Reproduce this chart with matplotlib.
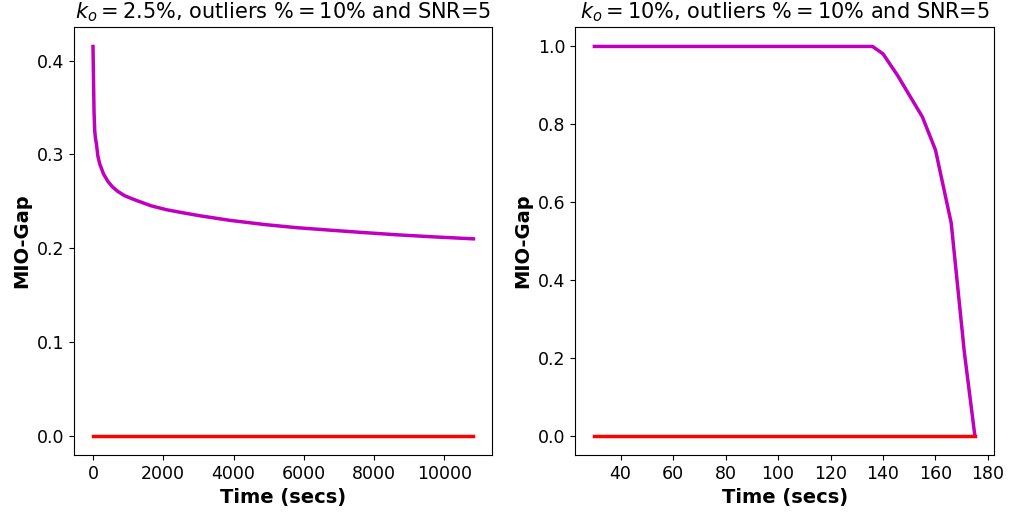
import numpy as np
import matplotlib
matplotlib.use("Agg")
import matplotlib.pyplot as plt

# left panel: k_o = 2.5%
time_left = [0, 15, 30, 50, 70, 96, 140, 190, 300, 426, 560, 710, 900, 1183,
             1656, 2100, 2602, 3028, 3900, 4920, 5800, 6810, 7700, 8703,
             9700, 10830]
gap_left = [0.415, 0.38, 0.345, 0.325, 0.317, 0.3116, 0.298, 0.290, 0.279,
            0.271, 0.265, 0.2603, 0.2558, 0.2515, 0.245, 0.2408, 0.2373,
            0.2345, 0.2295, 0.2249, 0.2217, 0.2189, 0.2165, 0.214, 0.2119,
            0.2098]

# right panel: k_o = 10%
time_right = [30, 60, 100, 136, 140, 145.5, 155, 160, 166, 171, 175]
gap_right = [1.0, 1.0, 1.0, 1.0, 0.981, 0.926, 0.819, 0.734, 0.546, 0.214, 0.0]

titles = [r"$k_o = 2.5\%$, outliers $\% = 10\%$ and SNR=5",
          r"$k_o = 10\%$, outliers $\% = 10\%$ and SNR=5"]

fig, axes = plt.subplots(1, 2, figsize=(10.09, 5.19), dpi=100)
fig.subplots_adjust(left=0.0733, right=0.985, top=0.948, bottom=0.1233, wspace=0.198)

panels = [(time_left, gap_left), (time_right, gap_right)]
for ax, (t, g), title in zip(axes, panels, titles):
    ax.plot(t, g, color='m', linewidth=2.5)
    ax.plot([t[0], t[-1]], [0, 0], color='r', linewidth=2.5)
    ax.set_title(title, fontsize=15)
    ax.set_xlabel("Time (secs)", fontsize=14, fontweight='bold')
    ax.set_ylabel("MIO-Gap", fontsize=14, fontweight='bold')
    ax.tick_params(labelsize=12.5)

axes[0].set_yticks([0.0, 0.1, 0.2, 0.3, 0.4])

plt.savefig("out.png", dpi=100)
